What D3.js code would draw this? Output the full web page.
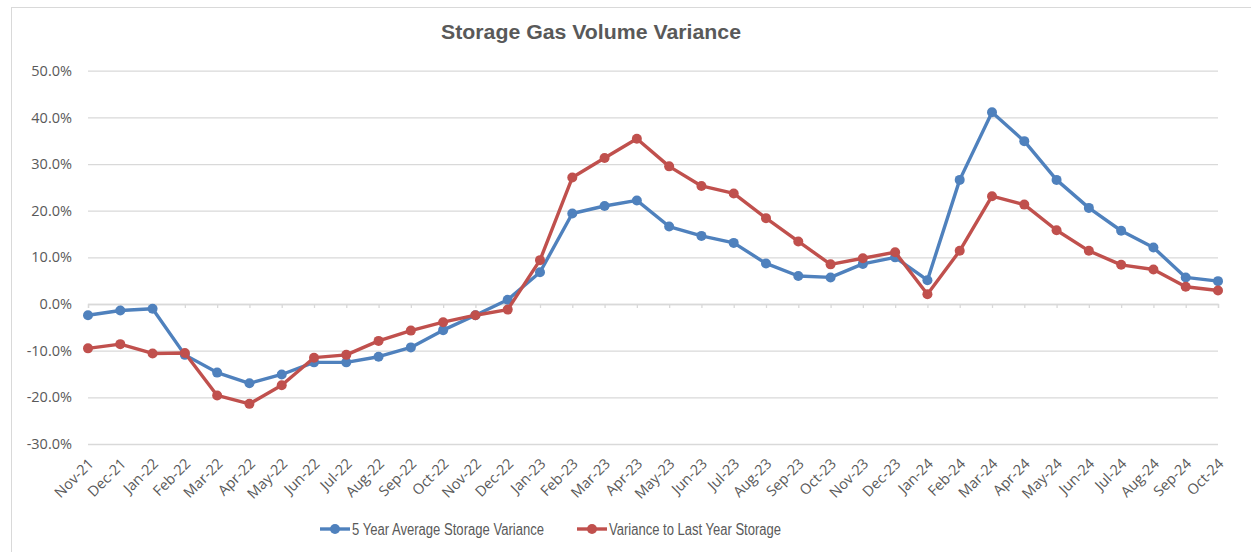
<!DOCTYPE html>
<html>
<head>
<meta charset="utf-8">
<script src="https://cdn.jsdelivr.net/npm/d3@7"></script>
<style>
  body { margin: 0; background: #fff; }
  svg { display: block; }
</style>
</head>
<body>
<svg id="chart" width="1251" height="552"></svg>
<script>
const months = [
  "Nov-21", "Dec-21", "Jan-22", "Feb-22", "Mar-22", "Apr-22", "May-22", "Jun-22", "Jul-22",
  "Aug-22", "Sep-22", "Oct-22", "Nov-22", "Dec-22", "Jan-23", "Feb-23", "Mar-23", "Apr-23",
  "May-23", "Jun-23", "Jul-23", "Aug-23", "Sep-23", "Oct-23", "Nov-23", "Dec-23", "Jan-24",
  "Feb-24", "Mar-24", "Apr-24", "May-24", "Jun-24", "Jul-24", "Aug-24", "Sep-24", "Oct-24"
];

const fiveYearAvg = [
  -2.4, -1.4, -1.0, -10.9, -14.7, -17.0, -15.1, -12.5, -12.5, -11.3, -9.3, -5.6,
  -2.4, 0.9, 6.8, 19.4, 21.0, 22.2, 16.6, 14.6, 13.1, 8.7, 6.0, 5.7,
  8.6, 10.0, 5.1, 26.6, 41.1, 34.9, 26.6, 20.6, 15.7, 12.1, 5.7, 4.9
];

const lastYear = [
  -9.5, -8.6, -10.6, -10.5, -19.6, -21.4, -17.4, -11.5, -10.9, -7.9, -5.7, -3.9,
  -2.4, -1.2, 9.4, 27.1, 31.3, 35.4, 29.5, 25.3, 23.7, 18.4, 13.4, 8.5,
  9.8, 11.1, 2.1, 11.4, 23.1, 21.3, 15.8, 11.4, 8.4, 7.4, 3.7, 2.9
];

const yTicks = [-30, -20, -10, 0, 10, 20, 30, 40, 50];

const series = [
  { name: "5 Year Average Storage Variance", values: fiveYearAvg, color: "#4f81bd" },
  { name: "Variance to Last Year Storage", values: lastYear, color: "#c0504d" }
];

const svg = d3.select("#chart");
const textColor = "#595959";
const gridColor = "#d9d9d9";

// outer frame
svg.append("rect")
  .attr("x", 11.5).attr("y", 7.5)
  .attr("width", 1245).attr("height", 560)
  .attr("fill", "none")
  .attr("stroke", gridColor);

const x = d3.scalePoint().domain(months).range([88, 1218]);
const y = d3.scaleLinear().domain([-30, 50]).range([444, 70.7]);

// title (narrow font in the original, so squeeze it to its width)
svg.append("text")
  .attr("x", 441).attr("y", 39)
  .attr("font-family", "Liberation Sans, Arial, sans-serif")
  .attr("font-weight", "bold")
  .attr("font-size", 20)
  .attr("fill", textColor)
  .attr("textLength", 300)
  .attr("lengthAdjust", "spacingAndGlyphs")
  .text("Storage Gas Volume Variance");

// gridlines + y labels
const yAxis = svg.append("g")
  .attr("transform", "translate(88,0)")
  .call(d3.axisLeft(y).tickValues(yTicks).tickSize(-1130).tickPadding(16)
    .tickFormat(d => d.toFixed(1) + "%"));
yAxis.select(".domain").remove();
yAxis.selectAll(".tick line").attr("stroke", gridColor).attr("stroke-width", 1.3);
yAxis.selectAll(".tick text")
  .attr("fill", textColor)
  .attr("font-family", "Open Sans, sans-serif")
  .attr("font-size", 14.5);

// category axis sits on the 0% line, ticks pointing down
const xAxis = svg.append("g")
  .attr("transform", `translate(0,${y(0)})`)
  .call(d3.axisBottom(x).tickSize(4).tickFormat(""));
xAxis.select(".domain").attr("stroke", gridColor).attr("stroke-width", 1.3);
xAxis.selectAll(".tick line").attr("stroke", gridColor).attr("stroke-width", 1.3);

// rotated month labels at the bottom
svg.append("g")
  .selectAll("text")
  .data(months)
  .join("text")
  .attr("transform", d => `translate(${x(d) + 3},${461}) rotate(-45)`)
  .attr("text-anchor", "end")
  .attr("dy", "0.35em")
  .attr("fill", textColor)
  .attr("font-family", "Open Sans, sans-serif")
  .attr("font-size", 14.5)
  .text(d => d);

const line = d3.line()
  .x((d, i) => x(months[i]))
  .y(d => y(d));

series.forEach(s => {
  svg.append("path")
    .datum(s.values)
    .attr("fill", "none")
    .attr("stroke", s.color)
    .attr("stroke-width", 3.4)
    .attr("stroke-linejoin", "round")
    .attr("d", line);

  svg.append("g")
    .selectAll("circle")
    .data(s.values)
    .join("circle")
    .attr("cx", (d, i) => x(months[i]))
    .attr("cy", d => y(d))
    .attr("r", 5)
    .attr("fill", s.color);
});

// legend
const legendPos = [320, 577];
const legendWidth = [192, 172];
const legend = svg.append("g")
  .selectAll("g")
  .data(series)
  .join("g")
  .attr("transform", (d, i) => `translate(${legendPos[i]},529)`);

legend.append("line")
  .attr("x1", 0).attr("x2", 30)
  .attr("stroke", d => d.color)
  .attr("stroke-width", 3.4);
legend.append("circle")
  .attr("cx", 15).attr("r", 5)
  .attr("fill", d => d.color);
legend.append("text")
  .attr("x", 32).attr("dy", "0.35em")
  .attr("fill", textColor)
  .attr("font-family", "Liberation Sans, Arial, sans-serif")
  .attr("font-size", 16)
  .attr("textLength", (d, i) => legendWidth[i])
  .attr("lengthAdjust", "spacingAndGlyphs")
  .text(d => d.name);
</script>
</body>
</html>
